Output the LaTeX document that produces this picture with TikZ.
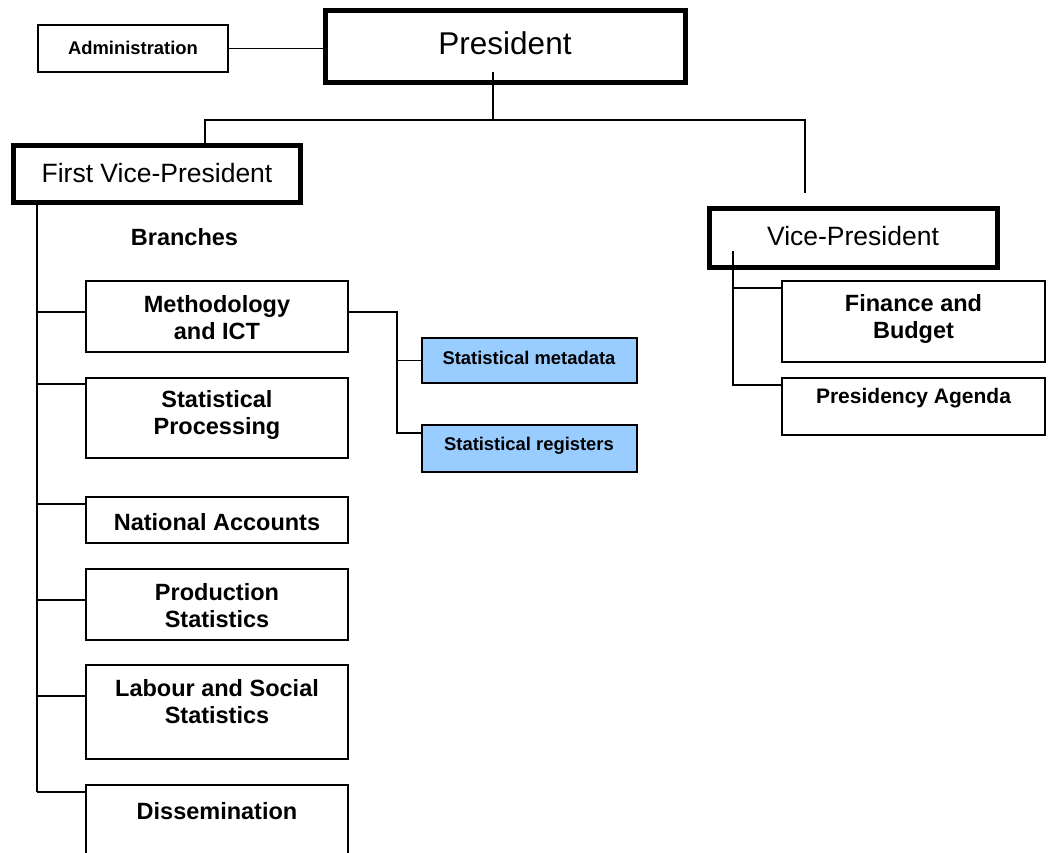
\documentclass[tikz,border=0pt]{standalone}
\usepackage{fontspec}
\setmainfont{Liberation Sans}
\usetikzlibrary{calc}
\definecolor{lightblue}{HTML}{99CCFF}
\begin{document}
\begin{tikzpicture}[x=1pt,y=-1pt,
  thinbox/.style={draw, line width=1.6pt, rectangle, inner sep=0pt},
  thickbox/.style={draw, line width=5pt, rectangle, inner sep=0pt},
  branchbox/.style={thinbox, minimum width=262.4pt},
  bluebox/.style={thinbox, fill=lightblue, minimum width=215.4pt},
  rightbox/.style={thinbox, minimum width=263.4pt},
  conn/.style={line width=1.6pt},
  bigtxt/.style={inner sep=0pt, font=\fontsize{31.5}{36}\selectfont},
  midtxt/.style={inner sep=0pt, font=\fontsize{26.5}{30}\selectfont},
  boldtxt/.style={inner sep=0pt, align=center, font=\bfseries\fontsize{23.5}{27}\selectfont},
  smalltxt/.style={inner sep=0pt, align=center, font=\bfseries\fontsize{18.4}{22}\selectfont},
  agtxt/.style={inner sep=0pt, align=center, font=\bfseries\fontsize{21}{25}\selectfont}]
\useasboundingbox (0,0) rectangle (1052,852);
\clip (0,0) rectangle (1052,852);

% boxes
\node[thinbox, minimum width=190.4pt, minimum height=47.4pt] (admin) at (133,48.5) {};
\node[thickbox, minimum width=360pt, minimum height=72pt] (pres) at (505.5,46.5) {};
\node[thickbox, minimum width=287pt, minimum height=57pt] (fvp) at (157,174) {};
\node[thickbox, minimum width=288pt, minimum height=59pt] (vp) at (853.5,238) {};

\node[branchbox, minimum height=71.4pt] (meth) at (217,316.5) {};
\node[branchbox, minimum height=80.4pt] (proc) at (217,418) {};
\node[branchbox, minimum height=46.4pt] (nat) at (217,520) {};
\node[branchbox, minimum height=71.4pt] (prod) at (217,604.5) {};
\node[branchbox, minimum height=94.4pt] (lab) at (217,712) {};
\node[branchbox, minimum height=94.4pt] (diss) at (217,832) {};

\node[bluebox, minimum height=45.4pt] (meta) at (529.5,360.5) {};
\node[bluebox, minimum height=47.4pt] (reg) at (529.5,448.5) {};

\node[rightbox, minimum height=81.4pt] (fin) at (913.5,321.5) {};
\node[rightbox, minimum height=57.4pt] (agenda) at (913.5,406.5) {};

% texts
\node[smalltxt] (admint) at (133,48) {Administration};
\node[bigtxt] (prest) at (505,43) {President};
\node[midtxt] (fvpt) at (157,173) {First Vice-President};
\node[midtxt] (vpt) at (853,236) {Vice-President};
\node[boldtxt] (brancht) at (184.5,237) {Branches};
\node[boldtxt] (metht) at (217,318) {Methodology\\and ICT};
\node[boldtxt] (proct) at (217,415) {Statistical\\Processing};
\node[boldtxt] (natt) at (217,522) {National Accounts};
\node[boldtxt] (prodt) at (217,606) {Production\\Statistics};
\node[boldtxt] (labt) at (217,702) {Labour and Social\\Statistics};
\node[boldtxt] (disst) at (217,811) {Dissemination};
\node[smalltxt] (metat) at (529,358) {Statistical metadata};
\node[smalltxt] (regt) at (529,446) {Statistical registers};
\node[boldtxt] (fint) at (913.5,319) {Finance and\\Budget};
\node[agtxt] (agendat) at (913.5,398) {Presidency Agenda};

% helper coordinates
\coordinate (pdrop) at (493,72);
\coordinate (busL) at (205,120);
\coordinate (busR) at (805,120);
\coordinate (vpstub) at (805,193);
\coordinate (sx) at (37,0);
\coordinate (spineEnd) at (37,792);
\coordinate (mx) at (397,0);
\coordinate (vtop) at (733,251);

% connectors
\draw[conn] (admin.east) -- (admin.east -| pres.west);
\draw[conn] (pdrop) -- (pdrop |- busL);
\draw[conn] (busL |- fvp.north) -- (busL) -- (busR) -- (vpstub);

\draw[conn] (sx |- fvp.south) -- (spineEnd);
\path ($(meth.north west)+(0,32)$) coordinate (c1)
      ($(proc.north west)+(0,7)$) coordinate (c2)
      ($(nat.north west)+(0,8)$) coordinate (c3)
      ($(prod.north west)+(0,32)$) coordinate (c4)
      ($(lab.north west)+(0,32)$) coordinate (c5)
      ($(diss.north west)+(0,8)$) coordinate (c6)
      ($(meth.north east)+(0,32)$) coordinate (me)
      ($(reg.north west)+(0,9)$) coordinate (rc)
      ($(fin.north west)+(0,8)$) coordinate (fc)
      ($(agenda.north west)+(0,8)$) coordinate (ac);
\foreach \c in {c1,c2,c3,c4,c5,c6} \draw[conn] (\c -| sx) -- (\c);

\draw[conn] (me) -- (me -| mx) -- (mx |- meta.west) -- (meta.west);
\draw[conn] (mx |- meta.west) -- (mx |- rc) -- (rc);

\draw[conn] (vtop) -- (vtop |- ac) -- (ac);
\draw[conn] (vtop |- fc) -- (fc);
\end{tikzpicture}
\end{document}
